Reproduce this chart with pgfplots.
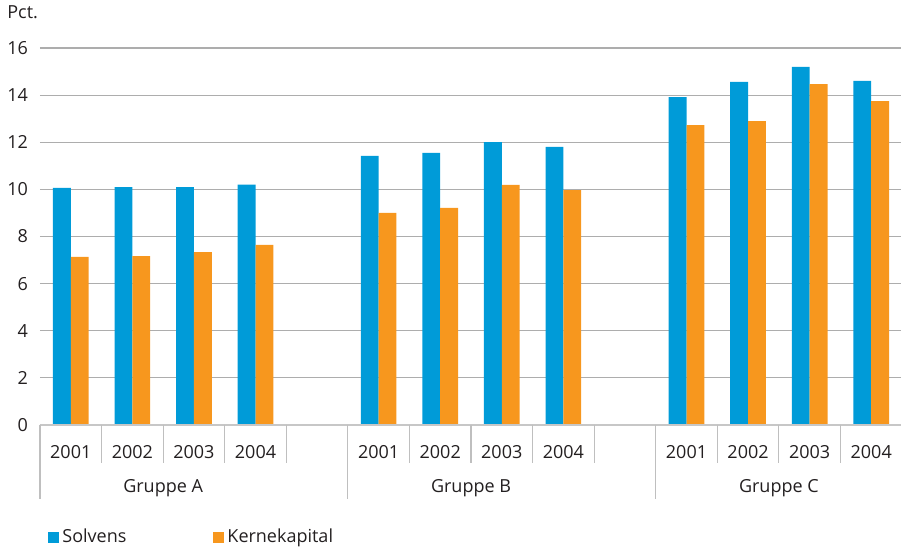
\documentclass[border=0pt]{standalone}
\usepackage{pgfplots}
\pgfplotsset{compat=1.18}
\usepackage{fontspec}
\setmainfont{Open Sans}
\definecolor{solv}{RGB}{0,155,216}
\definecolor{kern}{RGB}{247,151,30}
\definecolor{txt}{RGB}{35,31,32}

\begin{document}
\begin{tikzpicture}[font=\fontsize{9}{11}\selectfont, text=txt]
\begin{axis}[
  width=431pt, height=188.5pt, scale only axis,
  xmin=-0.5, xmax=13.5,
  ymin=0, ymax=16,
  ytick={0,2,...,16},
  xtick={0,1,2,3,5,6,7,8,10,11,12,13},
  xticklabels={2001,2002,2003,2004,2001,2002,2003,2004,2001,2002,2003,2004},
  major tick length=0pt,
  axis line style={draw=none},
  ymajorgrids=true,
  grid style={black!32, line width=0.6pt},
  /pgf/number format/assume math mode=true,
  xticklabel style={anchor=center, yshift=-13.5pt},
  yticklabel style={xshift=-2.5pt},
  ybar=0pt, bar width=0.29,
  clip=false,
  legend style={draw=none, fill=none, legend columns=2,
    at={(0,0)}, anchor=west, xshift=4pt, yshift=-56.25pt,
    inner sep=0pt, nodes={inner sep=0.5pt, text=txt},
    /tikz/every odd column/.append style={column sep=1pt},
    /tikz/column 2/.style={column sep=43pt}},
  legend image code/.code={\fill (0pt,-2.75pt) rectangle (5.5pt,2.75pt);},
]
% Solvens
\addplot[fill=solv, draw=none] coordinates {
  (0,10.06) (1,10.10) (2,10.10) (3,10.20)
  (5,11.42) (6,11.55) (7,12.01) (8,11.80)
  (10,13.92) (11,14.56) (12,15.20) (13,14.60)
};
% Kernekapital
\addplot[fill=kern, draw=none] coordinates {
  (0,7.13) (1,7.17) (2,7.34) (3,7.64)
  (5,9.00) (6,9.21) (7,10.19) (8,9.97)
  (10,12.73) (11,12.90) (12,14.47) (13,13.75)
};
\legend{Solvens,Kernekapital}

\draw[black!22, line width=0.6pt] (axis cs:-0.5,0) -- (axis cs:13.5,0);
\pgfplotsinvokeforeach{0.5,1.5,2.5,3.5,5.5,6.5,7.5,8.5,10.5,11.5,12.5}{
  \draw[black!25, line width=0.6pt] (axis cs:#1,0) -- ++(0pt,-19pt);
}
\pgfplotsinvokeforeach{-0.5,4.5,9.5}{
  \draw[black!25, line width=0.6pt] (axis cs:#1,0) -- ++(0pt,-37pt);
}
\node at (axis cs:1.5,0) [yshift=-31.5pt] {Gruppe A};
\node at (axis cs:6.5,0) [yshift=-31.5pt] {Gruppe B};
\node at (axis cs:11.5,0) [yshift=-31.5pt] {Gruppe C};
\end{axis}
\node[anchor=west, inner sep=0pt] at (-16.5pt,206.5pt) {Pct.};
\pgfresetboundingbox
\path[use as bounding box] (-20pt,-62pt) rectangle (430.5pt,212.5pt);
\end{tikzpicture}
\end{document}
